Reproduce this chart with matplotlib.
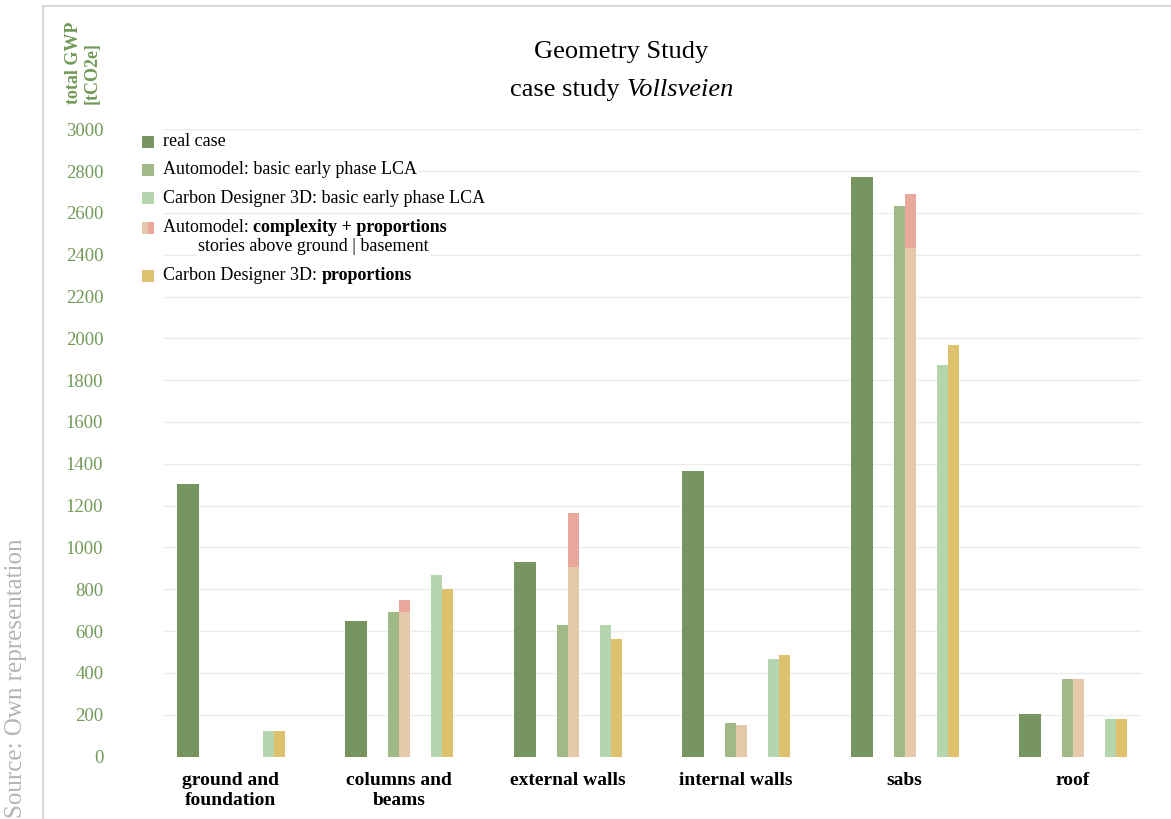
import numpy as np
import matplotlib
matplotlib.use("Agg")
import matplotlib.pyplot as plt
from matplotlib.patches import Rectangle
from matplotlib.lines import Line2D

# values (tCO2e)
categories = ["ground and\nfoundation", "columns and\nbeams", "external walls",
              "internal walls", "sabs", "roof"]
real_case = [1304, 648, 928, 1367, 2773, 205]
auto_basic = [0, 689, 630, 161, 2634, 373]
auto_above_ground = [0, 689, 908, 151, 2434, 373]
auto_basement = [0, 61, 258, 0, 255, 0]
cd3d_basic = [124, 869, 630, 468, 1873, 178]
cd3d_proportions = [124, 800, 560, 484, 1970, 178]
yticks = list(range(0, 3001, 200))

c_real = "#77965f"
c_auto = "#a1b985"
c_cd3d = "#b5d5ae"
c_above = "#e6c8ab"
c_base = "#e8a89c"
c_prop = "#dfc06c"
c_axis = "#729a58"

plt.rcParams["font.family"] = ["Liberation Serif", "DejaVu Serif"]

W, H = 1171, 819
fig = plt.figure(figsize=(W / 100, H / 100), dpi=100)


def fx(px):
    return px / W


def fy(py):
    return 1 - py / H


ax = fig.add_axes([fx(163), fy(756.5), fx(1142) - fx(163), fy(129.3) - fy(756.5)])

x = np.arange(len(categories))
w = 0.0653
off = 0.2553

ax.bar(x - off, real_case, width=2 * w, color=c_real, zorder=2)
ax.bar(x - w / 2, auto_basic, width=w, color=c_auto, zorder=2)
ax.bar(x + w / 2, auto_above_ground, width=w, color=c_above, zorder=2)
ax.bar(x + w / 2, auto_basement, width=w, bottom=auto_above_ground, color=c_base, zorder=2)
ax.bar(x + off - w / 2, cd3d_basic, width=w, color=c_cd3d, zorder=2)
ax.bar(x + off + w / 2, cd3d_proportions, width=w, color=c_prop, zorder=2)

ax.set_xlim(-0.403, 5.41)
ax.set_ylim(0, 3000)
ax.set_yticks(yticks)
ax.set_yticklabels([str(v) for v in yticks], color=c_axis, fontsize=13.5)
ax.tick_params(axis="y", length=0, pad=43)
ax.set_xticks(x)
ax.set_xticklabels(categories, fontsize=14, fontweight="bold", linespacing=1.25)
ax.tick_params(axis="x", length=0, pad=11)
ax.grid(axis="y", color="#ececec", linewidth=1, zorder=0)
ax.set_axisbelow(True)
for s in ax.spines.values():
    s.set_visible(False)

# title
fig.text(fx(621), fy(52), "Geometry Study", ha="center", va="center", fontsize=19)
t1 = fig.text(fx(510), fy(90), "case study ", ha="left", va="center", fontsize=19)
fig.canvas.draw()
r = fig.canvas.get_renderer()
bb = t1.get_window_extent(r)
fig.text(bb.x1 / W, fy(90), "Vollsveien", ha="left", va="center", fontsize=19, style="italic")

# y axis title
fig.text(fx(82.5), fy(104), "total GWP\n[tCO2e]", rotation=90, ha="center", va="bottom",
         multialignment="left", fontsize=13, fontweight="bold", color=c_axis, linespacing=1.1)

# source note
fig.text(fx(16.5), fy(818), "Source: Own representation", rotation=90, ha="center", va="bottom",
         fontsize=18, color="#b4b4b4")

# frame lines
fig.add_artist(Line2D([fx(43), 1], [fy(6), fy(6)], color="#cfcfcf", lw=1.2))
fig.add_artist(Line2D([fx(43), fx(43)], [fy(6), 0], color="#cfcfcf", lw=1.2))

# legend
bg = dict(facecolor="white", edgecolor="none", pad=1)
leg_rows = [
    (141.7, [c_real], [("real case", "normal")]),
    (170.0, [c_auto], [("Automodel: basic early phase LCA", "normal")]),
    (198.3, [c_cd3d], [("Carbon Designer 3D: basic early phase LCA", "normal")]),
    (227.7, [c_above, c_base], [("Automodel: ", "normal"), ("complexity + proportions", "bold")]),
    (275.7, [c_prop], [("Carbon Designer 3D: ", "normal"), ("proportions", "bold")]),
]
sq = 12
for yc, cols, parts in leg_rows:
    n = len(cols)
    for k, col in enumerate(cols):
        fig.add_artist(Rectangle((fx(142 + k * sq / n), fy(yc + sq / 2)), fx(sq / n), sq / H,
                                 facecolor=col, edgecolor="none"))
    xpos = 163
    for txt, wt in parts:
        t = fig.text(fx(xpos), fy(yc), txt, ha="left", va="center", fontsize=13,
                     fontweight=wt, bbox=bg)
        fig.canvas.draw()
        xpos = t.get_window_extent(r).x1
fig.text(fx(198), fy(246.7), "stories above ground | basement", ha="left", va="center",
         fontsize=13, bbox=bg)

fig.savefig("out.png", dpi=100)
